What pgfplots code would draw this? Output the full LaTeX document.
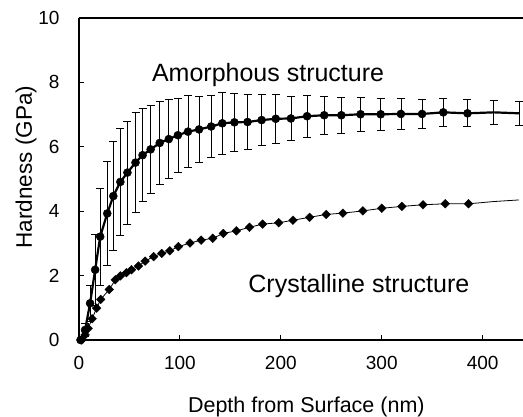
\documentclass[border=0pt]{standalone}
\usepackage{pgfplots}
\pgfplotsset{compat=1.18}
\usepackage{fontspec}
\setmainfont{Liberation Sans}
\begin{document}
\begin{tikzpicture}
\useasboundingbox (-79pt,-76pt) rectangle (444pt,340pt);
\begin{axis}[
  scale only axis, width=444pt, height=322pt,
  xmin=0, xmax=440, ymin=0, ymax=10,
  axis lines=left,
  axis line style={-, line width=1.6pt},
  tick align=inside, major tick length=5pt,
  tick style={line width=1pt, black},
  xtick={0,100,200,300,400}, ytick={0,2,4,6,8,10},
  /pgf/number format/assume math mode=true,
  xticklabel style={font=\fontsize{19}{21}\selectfont, yshift=-13pt},
  yticklabel style={font=\fontsize{19}{21}\selectfont, xshift=-16pt},
  clip=false,
]
\draw[line width=1.6pt] (rel axis cs:0,1) -- (rel axis cs:1,1);
% Amorphous
\addplot[black, line width=2.2pt, mark=*, mark size=4pt, mark indices={1,...,33},
  mark options={solid, line width=0.5pt},
  error bars/.cd, y dir=both, y explicit,
  error bar style={line width=0.7pt},
  error mark options={rotate=90, mark size=4pt, line width=0.7pt}]
  coordinates {
(1.5,0.0) +- (0,0.05)
(6,0.31) +- (0,0.2)
(11,1.14) +- (0,0.55)
(16,2.18) +- (0,1.1)
(21,3.21) +- (0,1.5)
(28,3.93) +- (0,1.62)
(34,4.47) +- (0,1.7)
(41,4.91) +- (0,1.65)
(48,5.2) +- (0,1.6)
(56,5.51) +- (0,1.55)
(63,5.74) +- (0,1.44)
(71,5.92) +- (0,1.36)
(80,6.12) +- (0,1.3)
(89,6.24) +- (0,1.23)
(98,6.36) +- (0,1.15)
(108,6.47) +- (0,1.12)
(119,6.54) +- (0,1.03)
(131,6.63) +- (0,0.97)
(142,6.73) +- (0,0.95)
(154,6.76) +- (0,0.9)
(167,6.77) +- (0,0.85)
(181,6.83) +- (0,0.8)
(195,6.87) +- (0,0.75)
(210,6.88) +- (0,0.69)
(226,6.95) +- (0,0.66)
(243,6.98) +- (0,0.6)
(260,6.98) +- (0,0.56)
(279,7.01) +- (0,0.54)
(299,7.01) +- (0,0.5)
(319,7.02) +- (0,0.47)
(340,7.02) +- (0,0.45)
(361,7.07) +- (0,0.44)
(385,7.04) +- (0,0.42)
(411,7.07) +- (0,0.38)
(436,7.04) +- (0,0.37)
};
% Crystalline
\addplot[black, line width=0.8pt, mark=square*, mark size=3.1pt, mark indices={1,...,35},
  mark options={solid, rotate=45, line width=0.3pt}]
  coordinates {
(2.7,0) (6,0.16) (9,0.36) (13,0.66) (17.5,0.99) (21.5,1.26) (30,1.57) (36,1.87)
(41,1.99) (47,2.09) (52,2.18) (59,2.30) (65.5,2.45) (74,2.59) (82,2.69) (90,2.77)
(98.5,2.90) (110,3.01) (121,3.10) (132.6,3.16) (143,3.31) (156,3.39) (169,3.50)
(182,3.60) (198,3.64) (212,3.72) (228.5,3.81) (245,3.90) (261.6,3.94) (281.4,4.01)
(300,4.09) (320,4.15) (341,4.20) (363,4.23) (386,4.23) (411,4.30) (436,4.35)
};
\node[font=\fontsize{25}{28}\selectfont, anchor=base west, inner sep=0pt] at (axis cs:72.2,8.02) {Amorphous structure};
\node[font=\fontsize{25}{28}\selectfont, anchor=base west, inner sep=0pt] at (axis cs:167.7,1.46) {Crystalline structure};
\node[font=\fontsize{21.5}{24}\selectfont, anchor=base, inner sep=0pt] at (rel axis cs:0.512,-0.2236) {Depth from Surface (nm)};
\node[font=\fontsize{22.5}{24}\selectfont, anchor=base, inner sep=0pt, rotate=90] at (rel axis cs:-0.106,0.537) {Hardness (GPa)};
\end{axis}
\end{tikzpicture}
\end{document}
